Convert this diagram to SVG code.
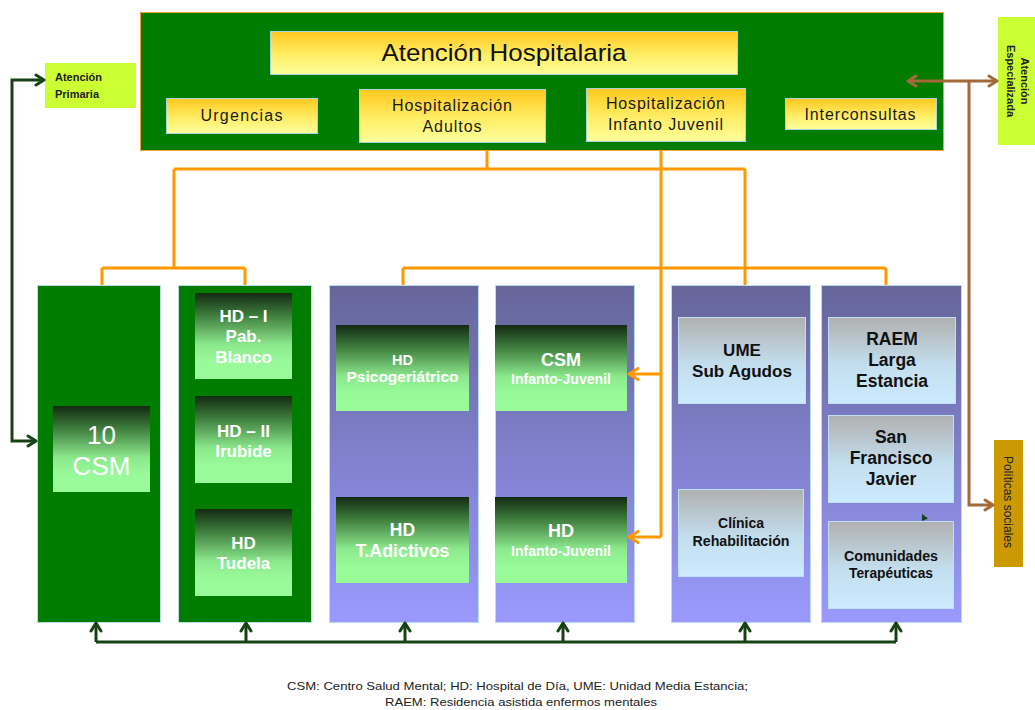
<svg xmlns="http://www.w3.org/2000/svg" width="1035" height="710" viewBox="0 0 1035 710">
<style>
text{font-family:"Liberation Sans",Arial,sans-serif;text-anchor:middle}
.yb{stroke:#A9D6DE;stroke-width:1}
.yt{font-size:16px;fill:#1a1a1a}
.gt{fill:#ffffff;font-weight:bold}
.bt{fill:#111111;font-weight:bold}
.col{stroke:#B9DCE6;stroke-width:1}
.or{fill:none;stroke:#FF9900;stroke-width:3}
.dg{fill:none;stroke:#164216;stroke-width:3}
.br{fill:none;stroke:#A2693A;stroke-width:3}
.side{font-size:11px;font-weight:bold;fill:#222}
</style>
<defs>
<linearGradient id="gy" x1="0" y1="0" x2="0" y2="1"><stop offset="0" stop-color="#FFC81E"/><stop offset="0.55" stop-color="#FFEE66"/><stop offset="1" stop-color="#FFFF9C"/></linearGradient>
<linearGradient id="gp" x1="0" y1="0" x2="0" y2="1"><stop offset="0" stop-color="#66669A"/><stop offset="1" stop-color="#9A9AFF"/></linearGradient>
<linearGradient id="gg" x1="0" y1="0" x2="0" y2="1"><stop offset="0" stop-color="#132A13"/><stop offset="0.25" stop-color="#3C7A3C"/><stop offset="0.6" stop-color="#8CE88C"/><stop offset="0.8" stop-color="#99FA99"/><stop offset="1" stop-color="#99FA99"/></linearGradient>
<linearGradient id="gb" x1="0" y1="0" x2="0" y2="1"><stop offset="0" stop-color="#B0B0B0"/><stop offset="0.55" stop-color="#C3DEEE"/><stop offset="1" stop-color="#CCEBFF"/></linearGradient>
<marker id="ao" viewBox="0 0 14 14" markerWidth="14" markerHeight="14" refX="12" refY="7" orient="auto-start-reverse" markerUnits="userSpaceOnUse"><path d="M3,1.5 L12,7 L3,12.5" fill="none" stroke="#FF9900" stroke-width="3" stroke-linejoin="round" stroke-linecap="round"/></marker>
<marker id="ad" viewBox="0 0 14 14" markerWidth="14" markerHeight="14" refX="12" refY="7" orient="auto-start-reverse" markerUnits="userSpaceOnUse"><path d="M4,2 L12,7 L4,12" fill="none" stroke="#164216" stroke-width="3" stroke-linejoin="round" stroke-linecap="round"/></marker>
<marker id="ab" viewBox="0 0 14 14" markerWidth="14" markerHeight="14" refX="12" refY="7" orient="auto-start-reverse" markerUnits="userSpaceOnUse"><path d="M4,2 L12,7 L4,12" fill="none" stroke="#A2693A" stroke-width="3" stroke-linejoin="round" stroke-linecap="round"/></marker>
</defs>
<rect width="1035" height="710" fill="#ffffff"/>

<g id="atencion-hospitalaria">
<rect x="140.5" y="12.5" width="803" height="138" fill="#007D00" stroke="#F5A030" stroke-width="1"/>
<rect x="270.5" y="31.5" width="467" height="43" fill="url(#gy)" class="yb"/>
<text x="504" y="61" style="font-size:24px;fill:#111" textLength="245" lengthAdjust="spacingAndGlyphs">Atención Hospitalaria</text>
</g>
<g id="urgencias">
<rect x="166.5" y="98.5" width="151" height="35" fill="url(#gy)" class="yb"/>
<text x="241.5" y="121" class="yt" textLength="82" lengthAdjust="spacing">Urgencias</text>
</g>
<g id="hosp-adultos">
<rect x="359.5" y="89.5" width="186" height="53" fill="url(#gy)" class="yb"/>
<text x="452" y="111" class="yt" textLength="120" lengthAdjust="spacing">Hospitalización</text>
<text x="452" y="132" class="yt" textLength="59" lengthAdjust="spacing">Adultos</text>
</g>
<g id="hosp-infanto">
<rect x="586.5" y="88.5" width="159" height="53" fill="url(#gy)" class="yb"/>
<text x="665.5" y="109" class="yt" textLength="119" lengthAdjust="spacing">Hospitalización</text>
<text x="665.5" y="130" class="yt" textLength="115" lengthAdjust="spacing">Infanto Juvenil</text>
</g>
<g id="interconsultas">
<rect x="785.5" y="98.5" width="151" height="31" fill="url(#gy)" class="yb"/>
<text x="860" y="120" class="yt" textLength="111" lengthAdjust="spacing">Interconsultas</text>
</g>

<g id="atencion-primaria">
<rect x="45" y="63" width="91" height="45" fill="#CCFF33"/>
<text x="55" y="81" class="side" style="text-anchor:start">Atención</text>
<text x="55" y="98" class="side" style="text-anchor:start">Primaria</text>
</g>
<g id="atencion-especializada">
<rect x="998" y="17" width="37" height="128" fill="#CCFF33"/>
<g transform="translate(1018,81) rotate(90)">
<text x="0" y="-3" class="side">Atención</text>
<text x="0" y="11" class="side">Especializada</text>
</g>
</g>
<g id="politicas-sociales">
<rect x="994" y="440" width="29" height="127" fill="#CC9900"/>
<text transform="translate(1008,502) rotate(90)" x="0" y="4" style="font-size:12px;fill:#222">Políticas sociales</text>
</g>

<g id="col-csm">
<rect x="37.5" y="285.5" width="123" height="337" fill="#007D00" class="col"/>
<rect x="53" y="406" width="97" height="86" fill="url(#gg)"/>
<text x="101.5" y="444" style="font-size:26px;fill:#fff">10</text>
<text x="101.5" y="475" style="font-size:26px;fill:#fff">CSM</text>
</g>
<g id="col-hd">
<rect x="178.5" y="285.5" width="133" height="337" fill="#007D00" class="col"/>
</g>
<g id="hd-i">
<rect x="195" y="293" width="97" height="86" fill="url(#gg)"/>
<text x="243.5" y="322" class="gt" style="font-size:17px">HD – I</text>
<text x="243.5" y="342" class="gt" style="font-size:17px">Pab.</text>
<text x="243.5" y="363" class="gt" style="font-size:17px">Blanco</text>
</g>
<g id="hd-ii">
<rect x="195" y="396" width="97" height="87" fill="url(#gg)"/>
<text x="243.5" y="437" class="gt" style="font-size:17px">HD – II</text>
<text x="243.5" y="457" class="gt" style="font-size:17px">Irubide</text>
</g>
<g id="hd-tudela">
<rect x="195" y="509" width="97" height="87" fill="url(#gg)"/>
<text x="243.5" y="549" class="gt" style="font-size:17px">HD</text>
<text x="243.5" y="569" class="gt" style="font-size:17px">Tudela</text>
</g>

<g id="col-psico">
<rect x="329.5" y="285.5" width="149" height="337" fill="url(#gp)" class="col"/>
</g>
<g id="hd-psicogeriatrico">
<rect x="336" y="325" width="133" height="86" fill="url(#gg)"/>
<text x="402.5" y="365" class="gt" style="font-size:14.5px">HD</text>
<text x="402.5" y="382" class="gt" style="font-size:14px" textLength="112" lengthAdjust="spacingAndGlyphs">Psicogeriátrico</text>
</g>
<g id="hd-adictivos">
<rect x="336" y="497" width="133" height="86" fill="url(#gg)"/>
<text x="402.5" y="536" class="gt" style="font-size:17.5px">HD</text>
<text x="402.5" y="557" class="gt" style="font-size:17.5px" textLength="94" lengthAdjust="spacingAndGlyphs">T.Adictivos</text>
</g>

<g id="col-infanto">
<rect x="495.5" y="285.5" width="139" height="337" fill="url(#gp)" class="col"/>
</g>
<g id="csm-infanto">
<rect x="495" y="325" width="132" height="86" fill="url(#gg)"/>
<text x="561" y="366" class="gt" style="font-size:18px">CSM</text>
<text x="561" y="384" class="gt" style="font-size:14px" textLength="100" lengthAdjust="spacingAndGlyphs">Infanto-Juvenil</text>
</g>
<g id="hd-infanto">
<rect x="495" y="497" width="132" height="86" fill="url(#gg)"/>
<text x="561" y="537" class="gt" style="font-size:18px">HD</text>
<text x="561" y="556" class="gt" style="font-size:14px" textLength="100" lengthAdjust="spacingAndGlyphs">Infanto-Juvenil</text>
</g>

<g id="col-ume">
<rect x="671.5" y="285.5" width="139" height="337" fill="url(#gp)" class="col"/>
</g>
<g id="ume">
<rect x="678.5" y="317.5" width="127" height="86" fill="url(#gb)" stroke="#BFE0EE" stroke-width="1"/>
<text x="742" y="356" class="bt" style="font-size:17px">UME</text>
<text x="742" y="377" class="bt" style="font-size:17px" textLength="100" lengthAdjust="spacingAndGlyphs">Sub Agudos</text>
</g>
<g id="clinica">
<rect x="678.5" y="489.5" width="125" height="87" fill="url(#gb)" stroke="#BFE0EE" stroke-width="1"/>
<text x="741" y="528" class="bt" style="font-size:14px">Clínica</text>
<text x="741" y="546" class="bt" style="font-size:14px" textLength="97" lengthAdjust="spacingAndGlyphs">Rehabilitación</text>
</g>

<g id="col-raem">
<rect x="821.5" y="285.5" width="140" height="337" fill="url(#gp)" class="col"/>
<polygon points="922,514 928,518.5 922,521" fill="#164216"/>
</g>
<g id="raem">
<rect x="828.5" y="317.5" width="127" height="86" fill="url(#gb)" stroke="#BFE0EE" stroke-width="1"/>
<text x="892" y="345" class="bt" style="font-size:17.5px">RAEM</text>
<text x="892" y="366" class="bt" style="font-size:17.5px">Larga</text>
<text x="892" y="387" class="bt" style="font-size:17.5px">Estancia</text>
</g>
<g id="san-francisco">
<rect x="828.5" y="415.5" width="125" height="87" fill="url(#gb)" stroke="#BFE0EE" stroke-width="1"/>
<text x="891" y="443" class="bt" style="font-size:17.5px">San</text>
<text x="891" y="464" class="bt" style="font-size:17.5px">Francisco</text>
<text x="891" y="485" class="bt" style="font-size:17.5px">Javier</text>
</g>
<g id="comunidades">
<rect x="828.5" y="521.5" width="125" height="87" fill="url(#gb)" stroke="#BFE0EE" stroke-width="1"/>
<text x="891" y="561" class="bt" style="font-size:14px" textLength="94" lengthAdjust="spacingAndGlyphs">Comunidades</text>
<text x="891" y="578" class="bt" style="font-size:14px" textLength="84" lengthAdjust="spacingAndGlyphs">Terapéuticas</text>
</g>

<g id="connectors">
<path class="or" d="M487,151 V169 M174,169 H745 M174,169 V268 M102,268 H245 M102,268 V285 M245,268 V285 M745,169 V285 M403,268 H886 M403,268 V285 M886,268 V285"/>
<path class="or" d="M661,151 V537"/>
<path class="or" d="M661,374 H629" marker-end="url(#ao)"/>
<path class="or" d="M661,537 H629" marker-end="url(#ao)"/>
<path class="dg" d="M44,80 H12 V441 H36" marker-start="url(#ad)" marker-end="url(#ad)"/>
<path class="dg" d="M96,642 H896"/>
<path class="dg" d="M96,642 V623" marker-end="url(#ad)"/>
<path class="dg" d="M246,642 V623" marker-end="url(#ad)"/>
<path class="dg" d="M405,642 V623" marker-end="url(#ad)"/>
<path class="dg" d="M563,642 V623" marker-end="url(#ad)"/>
<path class="dg" d="M745,642 V623" marker-end="url(#ad)"/>
<path class="dg" d="M896,642 V623" marker-end="url(#ad)"/>
<path class="br" d="M908,81 H997" marker-start="url(#ab)" marker-end="url(#ab)"/>
<path class="br" d="M969,81 V505 H993" marker-end="url(#ab)"/>
</g>

<g id="footer">
<text x="517.5" y="690" style="font-family:'Liberation Sans Narrow','Liberation Sans',sans-serif;font-size:11px;fill:#222" textLength="461" lengthAdjust="spacingAndGlyphs">CSM: Centro Salud Mental; HD: Hospital de Día, UME: Unidad Media Estancia;</text>
<text x="521" y="706" style="font-family:'Liberation Sans Narrow','Liberation Sans',sans-serif;font-size:11px;fill:#222" textLength="272" lengthAdjust="spacingAndGlyphs">RAEM: Residencia asistida enfermos mentales</text>
</g>
</svg>
